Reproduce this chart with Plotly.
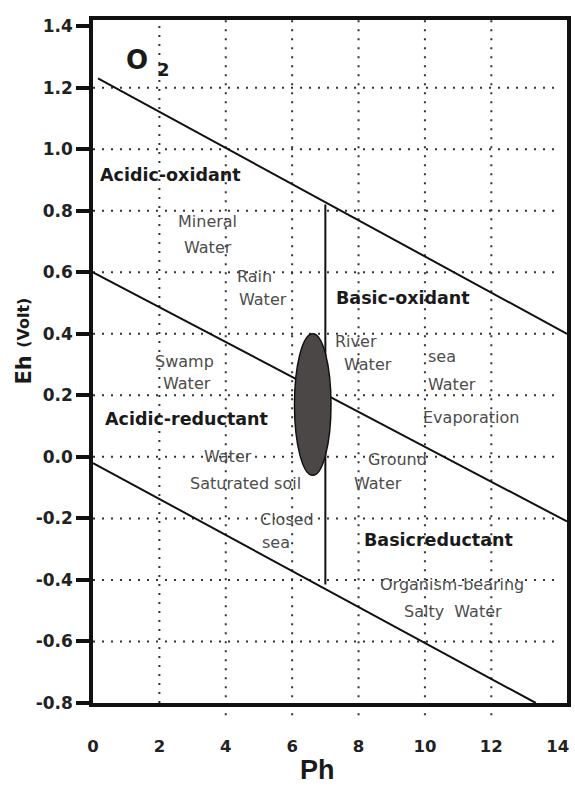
import plotly.graph_objects as go

# ---- data ----
# boundary lines (pH, Eh)
o2_line_ph = [0.15, 14.28]
o2_line_eh = [1.23, 0.40]
mid_line_ph = [0.0, 14.28]
mid_line_eh = [0.60, -0.21]
h2_line_ph = [0.0, 13.34]
h2_line_eh = [-0.02, -0.80]
split_line_ph = [7.0, 7.0]
split_line_eh = [0.82, -0.415]

# shaded ellipse extent (pH min/max, Eh min/max)
ellipse_ph = [6.07, 7.17]
ellipse_eh = [-0.06, 0.40]

x_ticks = [0, 2, 4, 6, 8, 10, 12, 14]
y_ticks = [-0.8, -0.6, -0.4, -0.2, 0.0, 0.2, 0.4, 0.6, 0.8, 1.0, 1.2, 1.4]
x_grid = [2, 4, 6, 8, 10, 12]
y_grid = [-0.6, -0.4, -0.2, 0.0, 0.2, 0.4, 0.6, 0.8, 1.0, 1.2]

# region labels (bold): text, pH, Eh
region_text = ["Acidic-oxidant", "Basic-oxidant", "Acidic-reductant", "Basicreductant"]
region_ph = [0.15, 7.26, 0.30, 8.10]
region_eh = [0.917, 0.517, 0.123, -0.270]

# water-type labels (regular): text, pH, Eh, anchor
water_text = ["Mineral", "Water", "Rain", "Water", "River", "Water",
              "sea", "Water", "Evaporation", "Swamp", "Water",
              "Water", "Saturated soil", "Ground", "Water",
              "Closed", "sea", "Organism-bearing", "Salty  Water"]
water_ph = [3.45, 3.45, 4.88, 5.12, 7.92, 8.27,
            10.03, 10.03, 9.88, 2.77, 2.83,
            4.08, 4.58, 9.17, 8.60,
            4.97, 5.03, 10.82, 10.86]
water_eh = [0.764, 0.682, 0.585, 0.510, 0.374, 0.299,
            0.325, 0.234, 0.1265, 0.309, 0.240,
            0.0, -0.085, -0.010, -0.088,
            -0.205, -0.277, -0.416, -0.504]
water_anchor = ["center", "center", "center", "center", "center", "center",
                "left", "left", "left", "center", "center",
                "center", "center", "center", "center",
                "left", "left", "center", "center"]

X_RANGE = [0, 14.28]
Y_RANGE = [-0.8, 1.42]

FONT = "DejaVu Sans"
DARK = "#1a1a1a"
GREY = "#4d4d4d"

fig = go.Figure()

line_style = dict(color="#111111", width=2)
for xs, ys in [(o2_line_ph, o2_line_eh), (mid_line_ph, mid_line_eh),
               (h2_line_ph, h2_line_eh), (split_line_ph, split_line_eh)]:
    fig.add_trace(go.Scatter(x=xs, y=ys, mode="lines", line=line_style,
                             showlegend=False, hoverinfo="skip"))

shapes = []
dot = dict(color="#333333", width=2, dash="2px,7px")
for gx in x_grid:
    shapes.append(dict(type="line", xref="x", yref="paper", x0=gx, x1=gx,
                       y0=(-0.018 if gx >= 4 else 0), y1=1, line=dot, layer="below"))
for gy in y_grid:
    shapes.append(dict(type="line", xref="x", yref="y", x0=0, x1=13.96,
                       y0=gy, y1=gy, line=dot, layer="below"))
shapes.append(dict(type="circle", xref="x", yref="y",
                   x0=ellipse_ph[0], x1=ellipse_ph[1],
                   y0=ellipse_eh[0], y1=ellipse_eh[1],
                   fillcolor="#4b4747", line=dict(color="#111111", width=1.5),
                   layer="above"))

annotations = []
for t, x, y in zip(region_text, region_ph, region_eh):
    annotations.append(dict(text=t, x=x, y=y, xref="x", yref="y", showarrow=False,
                            xanchor="left", yanchor="middle",
                            font=dict(family=FONT, size=17.5, color=DARK, weight="bold")))
for t, x, y, a in zip(water_text, water_ph, water_eh, water_anchor):
    annotations.append(dict(text=t, x=x, y=y, xref="x", yref="y", showarrow=False,
                            xanchor=a, yanchor="middle",
                            font=dict(family=FONT, size=16, color=GREY)))
# O2 label (O with a lowered 2)
annotations.append(dict(text="O", x=1.34, y=1.29, xref="x", yref="y",
                        showarrow=False, xanchor="center", yanchor="middle",
                        font=dict(family=FONT, size=26, color=DARK, weight="bold")))
annotations.append(dict(text="2", x=2.12, y=1.258, xref="x", yref="y",
                        showarrow=False, xanchor="center", yanchor="middle",
                        font=dict(family=FONT, size=18, color=DARK, weight="bold")))
# y-axis title: "Eh" larger, "(Volt)" smaller
annotations.append(dict(text="Eh", x=-0.1464, y=0.4876, xref="paper", yref="paper",
                        textangle=-90, showarrow=False, xanchor="center", yanchor="middle",
                        font=dict(family=FONT, size=21, color=DARK, weight="bold")))
annotations.append(dict(text="(Volt)", x=-0.1464, y=0.556, xref="paper", yref="paper",
                        textangle=-90, showarrow=False, xanchor="center", yanchor="middle",
                        font=dict(family=FONT, size=16, color=DARK, weight="bold")))
annotations.append(dict(text="Ph", x=0.473, y=-0.1235, xref="paper", yref="paper",
                        showarrow=False, xanchor="center", yanchor="bottom",
                        font=dict(family="Liberation Sans", size=27, color=DARK, weight="bold")))

fig.update_layout(
    width=575, height=788,
    margin=dict(l=93, r=4, t=20, b=85),
    paper_bgcolor="white", plot_bgcolor="white",
    shapes=shapes, annotations=annotations,
    xaxis=dict(range=X_RANGE, tickvals=x_ticks, ticktext=[str(v) for v in x_ticks],
               showgrid=False, zeroline=False, showline=True, mirror=True,
               linecolor="#111111", linewidth=3.5,
               ticks="outside", ticklen=25, tickcolor="rgba(0,0,0,0)",
               tickfont=dict(family=FONT, size=16.5, color="#222222", weight="bold")),
    yaxis=dict(range=Y_RANGE, tickvals=y_ticks,
               ticktext=[f"{v:.1f}" for v in y_ticks],
               showgrid=False, zeroline=False, showline=True, mirror=True,
               linecolor="#111111", linewidth=3.5,
               ticks="outside", ticklen=13, tickwidth=3.5, tickcolor="#111111",
               tickfont=dict(family=FONT, size=17, color="#222222", weight="bold")),
)

fig.write_html(
    "out.html",
    config={"displayModeBar": False},
    post_script="document.body.style.margin='0';document.body.style.overflow='hidden';",
)
